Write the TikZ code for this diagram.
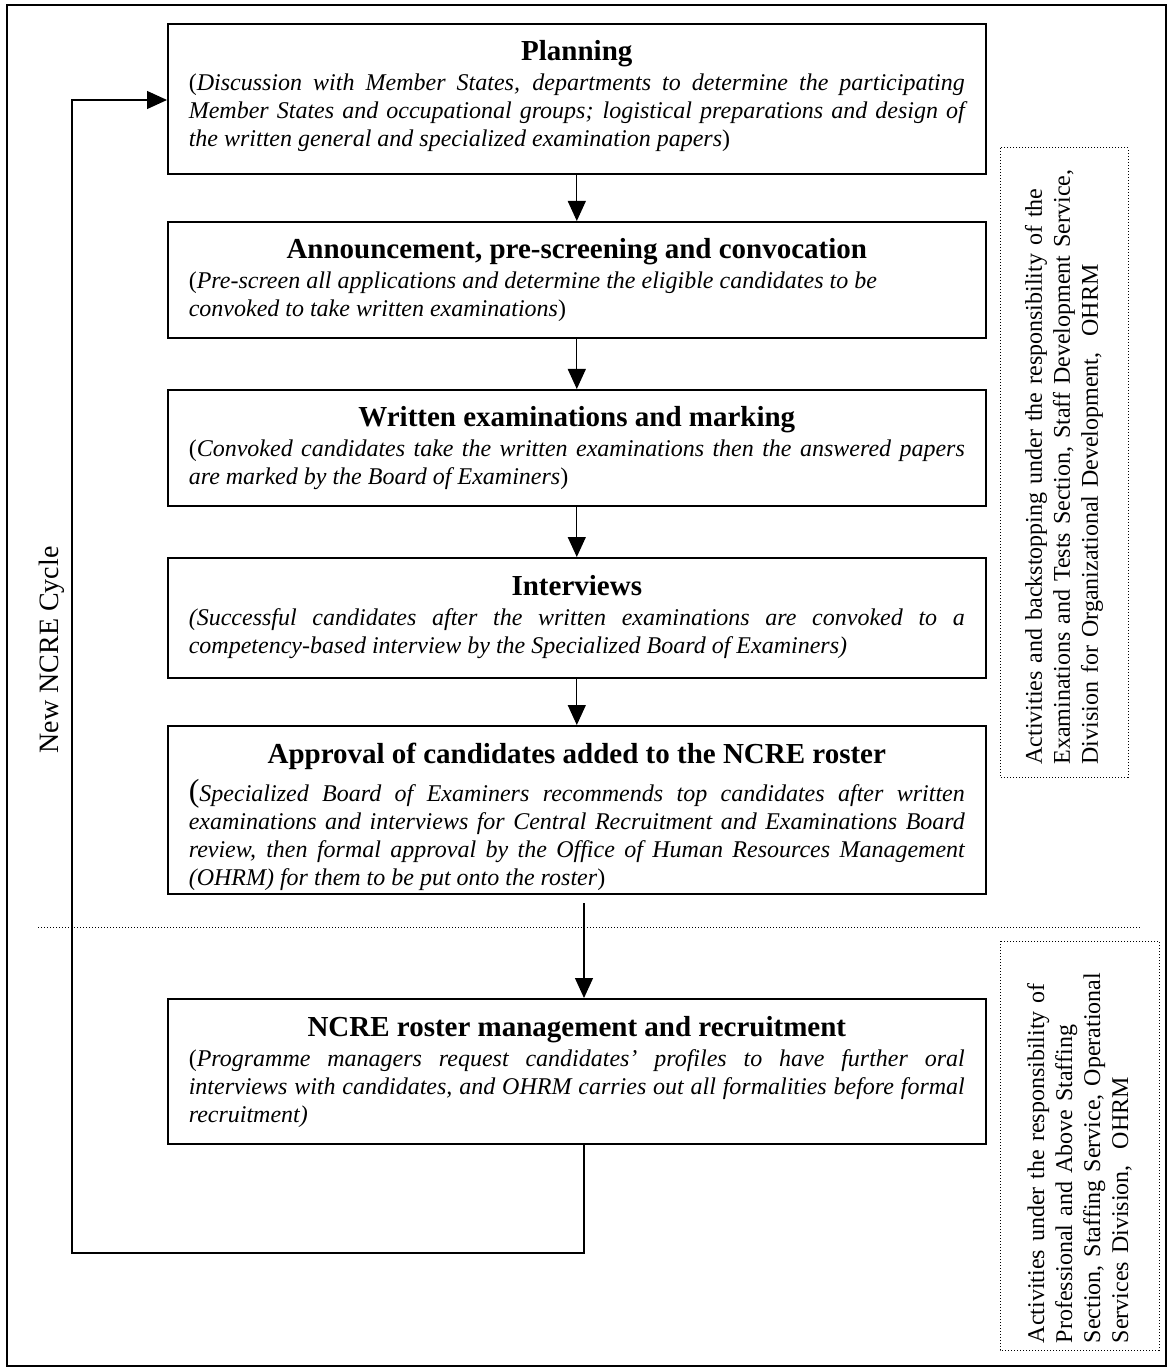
\documentclass[tikz,border=0pt]{standalone}
\usepackage{fontspec}
\setmainfont{Liberation Serif}
\usetikzlibrary{arrows.meta}
\newcommand{\hd}[1]{{\centering\fontsize{14.5}{17}\selectfont\bfseries\rule{0pt}{18.6pt}#1\par}\vspace{1pt}}
\newcommand{\stg}[2]{\parbox[t][#1][t]{388pt}{\fontsize{12}{14}\selectfont #2}}
\newcommand{\bigp}{{\fontsize{16}{16}\selectfont(}}

\begin{document}
\begin{tikzpicture}[x=0.5pt,y=-0.5pt,
    box/.style={draw,line width=0.8pt,anchor=north west,inner xsep=10.5pt,inner ysep=0pt},
    side/.style={draw,line width=0.5pt,dash pattern=on 0.5pt off 1pt,rotate=90,align=left,inner sep=3pt,font=\fontsize{12}{14}\selectfont},
    arr/.style={line width=0.6pt,-{Triangle[length=10pt,width=9pt]}}]
  \useasboundingbox (0,0) rectangle (1169,1368);
  \draw[line width=0.7pt] (7,5) rectangle (1166,1366);

  % the stages
  \node[box] (plan) at (167,23) {\stg{75pt}{\hd{Planning}(\textit{Discussion with Member States, departments to determine the participating\linebreak Member States and occupational groups; logistical preparations and design of\linebreak the written general and specialized examination papers})}};
  \node[box] (ann) at (167,221) {\stg{58pt}{\hd{Announcement, pre-screening and convocation}\raggedright(\textit{Pre-screen all applications and determine the eligible candidates to be\newline convoked to take written examinations})}};
  \node[box] (wrt) at (167,389) {\stg{58pt}{\hd{Written examinations and marking}(\textit{Convoked candidates take the written examinations then the answered papers\linebreak are marked by the Board of Examiners})}};
  \node[box] (intv) at (167,557) {\stg{60pt}{\hd{Interviews}\textit{(Successful candidates after the written examinations are convoked to a\linebreak competency-based interview by the Specialized Board of Examiners)}}};
  \node[box] (appr) at (167,725) {\stg{84pt}{\hd{Approval of candidates added to the NCRE roster}\vspace{3pt}\bigp\textit{Specialized Board of Examiners recommends top candidates after written\linebreak examinations and interviews for Central Recruitment and Examinations Board\linebreak review, then formal approval by the Office of Human Resources Management\linebreak (OHRM) for them to be put onto the roster})}};
  \node[box] (ncre) at (167,998) {\stg{72.5pt}{\hd{NCRE roster management and recruitment}(\textit{Programme managers request candidates' profiles to have further oral\linebreak interviews with candidates, and OHRM carries out all formalities before formal\linebreak recruitment)}}};

  \draw[arr] (plan.south) -- (ann.north);
  \draw[arr] (ann.south) -- (wrt.north);
  \draw[arr] (wrt.south) -- (intv.north);
  \draw[arr] (intv.south) -- (appr.north);
  \coordinate (s) at (584,903);
  \draw[arr] (s) -- (s |- ncre.north);

  % back to planning
  \coordinate (lb) at (72,1253);
  \coordinate (lt) at (72,100);
  \draw[arr] (ncre.south -| s) |- (lb) -- (lt) -- (lt -| plan.west);
  \node[rotate=90,font=\fontsize{14}{16}\selectfont] (cyc) at (52,650) {New NCRE Cycle};

  \draw[line width=0.5pt,dash pattern=on 0.5pt off 1pt] (38,927) -- (1142,927);
  \node[side,minimum width=314.5pt,minimum height=64pt,text width=302pt] (ets) at (1064,462.5)
    {Activities and backstopping under the responsibility of the\\Examinations and Tests Section, Staff Development Service,\\Division for Organizational Development, \ OHRM};
  \node[side,minimum width=204.5pt,minimum height=79.5pt,text width=197.5pt] (pas) at (1079.5,1145.5)
    {Activities under the responsibility of\\Professional and Above Staffing\\Section, Staffing Service, Operational\\Services Division, \ OHRM};
\end{tikzpicture}
\end{document}
